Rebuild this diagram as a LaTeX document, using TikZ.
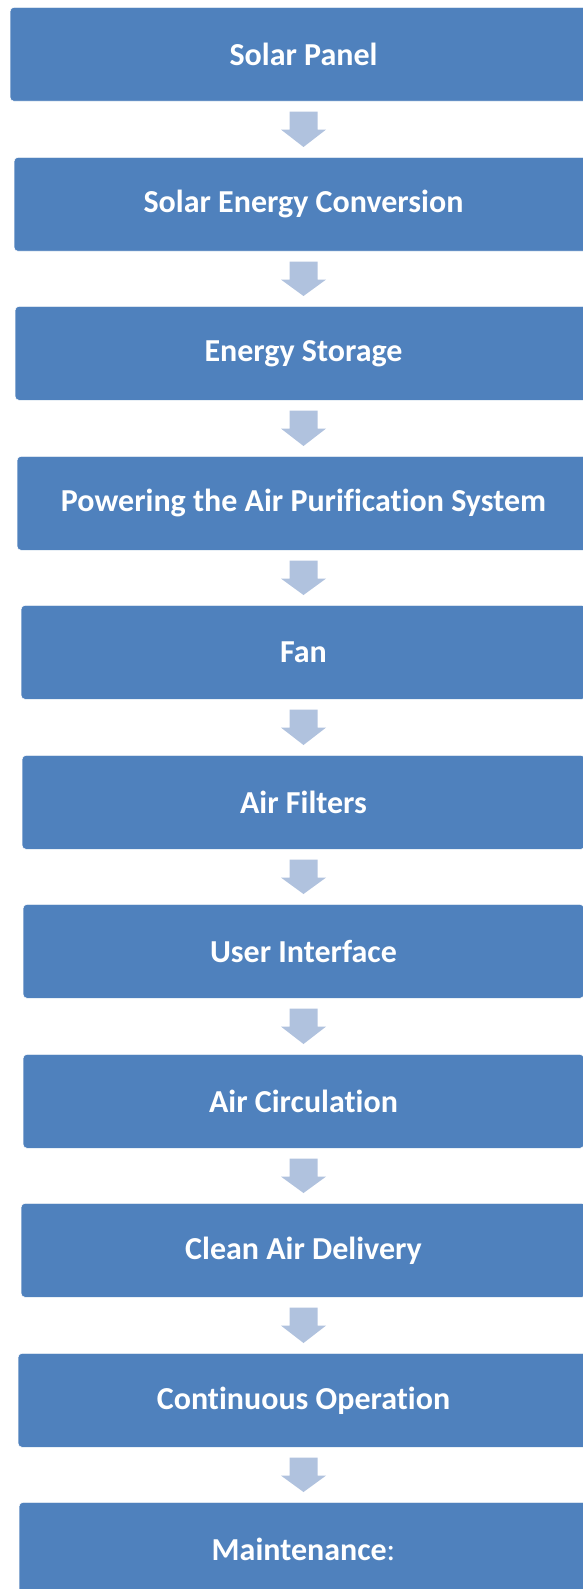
\documentclass[tikz,border=0pt]{standalone}
\usepackage{fontspec}
\setmainfont{Carlito}[Ligatures=NoCommon, RawFeature={-liga;-clig;-dlig}]
\usetikzlibrary{calc}

\definecolor{boxblue}{HTML}{4F81BD}
\definecolor{arrowblue}{HTML}{B0C2DE}

\tikzset{
  x=1pt, y=1pt,
  stepbox/.style={draw=white, line width=0.6pt, fill=boxblue, rounded corners=4pt,
    minimum height=94pt, inner sep=0pt, text=white,
    font=\bfseries\fontsize{32}{36}\selectfont},
  flowarrow/.style={fill=arrowblue, draw=none}
}

% block arrow between two stacked boxes
\newcommand{\blockarrow}[2]{%
  \fill[flowarrow]
    ($(#1.south)+(-14,-10)$) -- ($(#1.south)+(14,-10)$) --
    ($(#1.south)+(14,-28)$) -- ($(#1.south)+(22.5,-28)$) --
    ($(#2.north)+(0,10)$) --
    ($(#1.south)+(-22.5,-28)$) -- ($(#1.south)+(-14,-28)$) -- cycle;}

\begin{document}
\begin{tikzpicture}
\useasboundingbox (0,0) rectangle (583,-1589);
\clip (0,0) rectangle (583,-1589);

\def\cx{303.5}
% boxes: name / top edge / left edge / text
\foreach \n/\top/\lft/\txt in {
  b1/7/10/{Solar Panel},
  b2/157/14/{Solar Energy Conversion},
  b3/306/15/{Energy Storage},
  b4/456/17/{Powering the Air Purification System},
  b5/605/21/{Fan},
  b6/755/22/{Air Filters},
  b7/904/23/{User Interface},
  b8/1054/23/{Air Circulation},
  b9/1203/21/{Clean Air Delivery},
  b10/1353/18/{Continuous Operation},
  b11/1502/19/{Maintenance\textmd{:}}}
{
  \node[stepbox, anchor=north, minimum width={2*(\cx-\lft)*1pt}] (\n) at (\cx,-\top) {\txt};
}

\foreach \a/\b in {b1/b2,b2/b3,b3/b4,b4/b5,b5/b6,b6/b7,b7/b8,b8/b9,b9/b10,b10/b11}
  \blockarrow{\a}{\b};
\end{tikzpicture}
\end{document}
